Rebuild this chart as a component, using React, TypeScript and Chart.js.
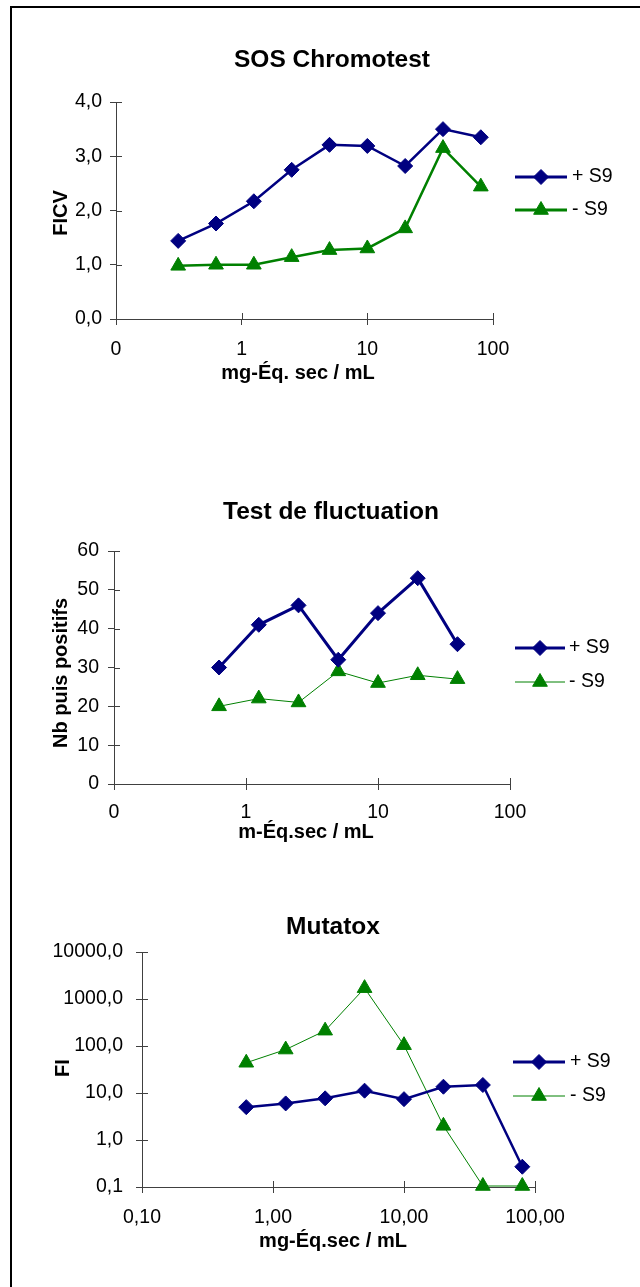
import React, { useEffect, useRef } from 'react';
import { Chart, registerables } from 'chart.js';

Chart.register(...registerables);

const FONT = "Arial, 'Liberation Sans', sans-serif";
const NAVY = '#000080';
const GREEN = '#008000';
const AXIS = '#404040';

const SERIES_LABELS = ['+ S9', '- S9'];

// --- SOS Chromotest ---
const SOS_DOSES = [0.3125, 0.625, 1.25, 2.5, 5, 10, 20, 40, 80];
const SOS_PLUS_S9 = [1.44, 1.76, 2.17, 2.75, 3.21, 3.19, 2.82, 3.5, 3.35];
const SOS_MINUS_S9 = [0.98, 1.0, 1.0, 1.14, 1.27, 1.3, 1.67, 3.15, 2.44];
const SOS_X_TICKS = [0.1, 1, 10, 100];
const SOS_X_LABELS = ['0', '1', '10', '100'];
const SOS_Y_TICKS = [0, 1, 2, 3, 4];
const SOS_Y_LABELS = ['0,0', '1,0', '2,0', '3,0', '4,0'];

// --- Test de fluctuation ---
const FLUC_DOSES = [0.625, 1.25, 2.5, 5, 10, 20, 40];
const FLUC_PLUS_S9 = [30, 41, 46, 32, 44, 53, 36];
const FLUC_MINUS_S9 = [20, 22, 21, 29, 26, 28, 27];
const FLUC_X_TICKS = [0.1, 1, 10, 100];
const FLUC_X_LABELS = ['0', '1', '10', '100'];
const FLUC_Y_TICKS = [0, 10, 20, 30, 40, 50, 60];
const FLUC_Y_LABELS = ['0', '10', '20', '30', '40', '50', '60'];

// --- Mutatox ---
const MUT_DOSES = [0.625, 1.25, 2.5, 5, 10, 20, 40, 80];
const MUT_PLUS_S9 = [5.0, 6.0, 7.7, 11.2, 7.4, 13.6, 14.8, 0.27];
const MUT_MINUS_S9 = [44, 84, 212, 1700, 104, 2.0, 0.105, 0.105];
const MUT_X_TICKS = [0.1, 1, 10, 100];
const MUT_X_LABELS = ['0,10', '1,00', '10,00', '100,00'];
const MUT_Y_TICKS = [0.1, 1, 10, 100, 1000, 10000];
const MUT_Y_LABELS = ['0,1', '1,0', '10,0', '100,0', '1000,0', '10000,0'];

type Spec = {
  id: string;
  top: number;
  height: number;
  area: { left: number; right: number; top: number; bottom: number };
  title: string;
  titlePos: [number, number];
  yTitle: string;
  yTitlePos: [number, number];
  xTitle: string;
  xTitlePos: [number, number];
  legend: { x1: number; x2: number; textX: number; ys: [number, number]; widths: [number, number] };
  doses: number[];
  plus: number[];
  minus: number[];
  plusWidth: number;
  minusWidth: number;
  xTicks: number[];
  xLabels: string[];
  yTicks: number[];
  yLabels: string[];
  yType: 'linear' | 'logarithmic';
  xPad: number;
  yPad: number;
};

const SPECS: Spec[] = [
  {
    id: 'sos', top: 0, height: 420,
    area: { left: 116, right: 493, top: 102, bottom: 319 },
    title: 'SOS Chromotest', titlePos: [332, 60],
    yTitle: 'FICV', yTitlePos: [61, 213],
    xTitle: 'mg-Éq. sec / mL', xTitlePos: [298, 373],
    legend: { x1: 515, x2: 567, textX: 572, ys: [177, 210], widths: [3, 3] },
    doses: SOS_DOSES, plus: SOS_PLUS_S9, minus: SOS_MINUS_S9,
    plusWidth: 2.5, minusWidth: 2.5,
    xTicks: SOS_X_TICKS, xLabels: SOS_X_LABELS,
    yTicks: SOS_Y_TICKS, yLabels: SOS_Y_LABELS, yType: 'linear',
    xPad: 13, yPad: 8,
  },
  {
    id: 'fluc', top: 420, height: 450,
    area: { left: 114, right: 510, top: 131, bottom: 364 },
    title: 'Test de fluctuation', titlePos: [331, 92],
    yTitle: 'Nb puis positifs', yTitlePos: [61, 253],
    xTitle: 'm-Éq.sec / mL', xTitlePos: [306, 412],
    legend: { x1: 515, x2: 565, textX: 569, ys: [228, 262], widths: [3, 1] },
    doses: FLUC_DOSES, plus: FLUC_PLUS_S9, minus: FLUC_MINUS_S9,
    plusWidth: 3, minusWidth: 1,
    xTicks: FLUC_X_TICKS, xLabels: FLUC_X_LABELS,
    yTicks: FLUC_Y_TICKS, yLabels: FLUC_Y_LABELS, yType: 'linear',
    xPad: 11, yPad: 9,
  },
  {
    id: 'mut', top: 870, height: 417,
    area: { left: 142, right: 535, top: 82, bottom: 317 },
    title: 'Mutatox', titlePos: [333, 57],
    yTitle: 'FI', yTitlePos: [63, 198],
    xTitle: 'mg-Éq.sec / mL', xTitlePos: [333, 371],
    legend: { x1: 513, x2: 565, textX: 570, ys: [192, 226], widths: [3, 1] },
    doses: MUT_DOSES, plus: MUT_PLUS_S9, minus: MUT_MINUS_S9,
    plusWidth: 2.5, minusWidth: 1,
    xTicks: MUT_X_TICKS, xLabels: MUT_X_LABELS,
    yTicks: MUT_Y_TICKS, yLabels: MUT_Y_LABELS, yType: 'logarithmic',
    xPad: 13, yPad: 13,
  },
];

function drawMarker(ctx: CanvasRenderingContext2D, style: string, x: number, y: number, r: number, color: string) {
  ctx.save();
  ctx.fillStyle = color;
  ctx.strokeStyle = color;
  ctx.lineWidth = 1;
  ctx.beginPath();
  if (style === 'rectRot') {
    ctx.moveTo(x, y - r);
    ctx.lineTo(x + r, y);
    ctx.lineTo(x, y + r);
    ctx.lineTo(x - r, y);
  } else {
    ctx.moveTo(x, y - r);
    ctx.lineTo(x + r * Math.sin((2 * Math.PI) / 3), y - r * Math.cos((2 * Math.PI) / 3));
    ctx.lineTo(x + r * Math.sin((4 * Math.PI) / 3), y - r * Math.cos((4 * Math.PI) / 3));
  }
  ctx.closePath();
  ctx.fill();
  ctx.stroke();
  ctx.restore();
}

function decorPlugin(spec: Spec) {
  return {
    id: 'decor_' + spec.id,
    afterDraw(chart: any) {
      const ctx: CanvasRenderingContext2D = chart.ctx;
      const area = chart.chartArea;
      const xs = chart.scales.x;
      const ys = chart.scales.y;
      ctx.save();
      // inner half of crossing tick marks
      ctx.strokeStyle = AXIS;
      ctx.lineWidth = 1;
      ctx.beginPath();
      xs.ticks.forEach((t: any) => {
        const px = Math.round(xs.getPixelForValue(t.value)) + 0.5;
        ctx.moveTo(px, area.bottom);
        ctx.lineTo(px, area.bottom - 6);
      });
      ys.ticks.forEach((t: any) => {
        const py = Math.round(ys.getPixelForValue(t.value)) + 0.5;
        ctx.moveTo(area.left, py);
        ctx.lineTo(area.left + 6, py);
      });
      ctx.stroke();

      ctx.fillStyle = '#000';
      ctx.textAlign = 'center';
      ctx.textBaseline = 'middle';
      // title
      ctx.font = `bold 24.5px ${FONT}`;
      ctx.fillText(spec.title, spec.titlePos[0], spec.titlePos[1]);
      // x title
      ctx.font = `bold 20px ${FONT}`;
      ctx.fillText(spec.xTitle, spec.xTitlePos[0], spec.xTitlePos[1]);
      // y title
      ctx.save();
      ctx.translate(spec.yTitlePos[0], spec.yTitlePos[1]);
      ctx.rotate(-Math.PI / 2);
      ctx.fillText(spec.yTitle, 0, 0);
      ctx.restore();

      // legend
      const lg = spec.legend;
      chart.data.datasets.forEach((ds: any, i: number) => {
        const y = lg.ys[i];
        ctx.strokeStyle = ds.borderColor;
        ctx.lineWidth = lg.widths[i];
        ctx.beginPath();
        ctx.moveTo(lg.x1, y);
        ctx.lineTo(lg.x2, y);
        ctx.stroke();
        drawMarker(ctx, ds.pointStyle, (lg.x1 + lg.x2) / 2, y, ds.pointRadius, ds.borderColor);
        ctx.fillStyle = '#000';
        ctx.textAlign = 'left';
        ctx.textBaseline = 'middle';
        ctx.font = `19.5px ${FONT}`;
        ctx.fillText(ds.label, lg.textX, y);
      });
      ctx.restore();
    },
  };
}

function makeConfig(spec: Spec): any {
  const a = spec.area;
  const xH = 40;
  const tickFont = { family: FONT, size: 19.5 };
  return {
    type: 'line',
    data: {
      datasets: [
        {
          label: SERIES_LABELS[0],
          data: spec.doses.map((x, i) => ({ x, y: spec.plus[i] })),
          borderColor: NAVY,
          backgroundColor: NAVY,
          borderWidth: spec.plusWidth,
          pointStyle: 'rectRot',
          pointRadius: 7.5,
          pointBorderWidth: 1,
          pointBackgroundColor: NAVY,
          pointBorderColor: NAVY,
          tension: 0,
          clip: false,
        },
        {
          label: SERIES_LABELS[1],
          data: spec.doses.map((x, i) => ({ x, y: spec.minus[i] })),
          borderColor: GREEN,
          backgroundColor: GREEN,
          borderWidth: spec.minusWidth,
          pointStyle: 'triangle',
          pointRadius: 8.5,
          pointBorderWidth: 1,
          pointBackgroundColor: GREEN,
          pointBorderColor: GREEN,
          tension: 0,
          clip: false,
        },
      ],
    },
    options: {
      responsive: false,
      animation: false,
      devicePixelRatio: 1,
      events: [],
      layout: {
        padding: { left: 0, top: a.top, right: 640 - a.right, bottom: spec.height - a.bottom - xH },
      },
      plugins: {
        legend: { display: false },
        title: { display: false },
        tooltip: { enabled: false },
      },
      scales: {
        x: {
          type: 'logarithmic',
          position: 'bottom',
          min: spec.xTicks[0],
          max: spec.xTicks[spec.xTicks.length - 1],
          afterBuildTicks: (s: any) => {
            s.ticks = spec.xTicks.map((v) => ({ value: v }));
          },
          afterFit: (s: any) => {
            s.height = xH;
          },
          ticks: {
            autoSkip: false,
            maxRotation: 0,
            minRotation: 0,
            padding: spec.xPad,
            color: '#000',
            font: tickFont,
            callback: (_v: any, i: number) => spec.xLabels[i],
          },
          grid: { drawOnChartArea: false, drawTicks: true, tickLength: 6, color: AXIS, lineWidth: 1 },
          border: { display: true, color: AXIS, width: 1 },
        },
        y: {
          type: spec.yType,
          position: 'left',
          min: spec.yTicks[0],
          max: spec.yTicks[spec.yTicks.length - 1],
          afterBuildTicks: (s: any) => {
            s.ticks = spec.yTicks.map((v) => ({ value: v }));
          },
          afterFit: (s: any) => {
            s.width = a.left;
          },
          ticks: {
            autoSkip: false,
            padding: spec.yPad,
            color: '#000',
            font: tickFont,
            callback: (_v: any, i: number) => spec.yLabels[i],
          },
          grid: { drawOnChartArea: false, drawTicks: true, tickLength: 6, color: AXIS, lineWidth: 1 },
          border: { display: true, color: AXIS, width: 1 },
        },
      },
    },
    plugins: [decorPlugin(spec)],
  };
}

function Panel({ spec }: { spec: Spec }) {
  const ref = useRef<HTMLCanvasElement>(null);
  useEffect(() => {
    if (!ref.current) return;
    const chart = new Chart(ref.current, makeConfig(spec));
    return () => chart.destroy();
  }, [spec]);
  return (
    <canvas
      ref={ref}
      width={640}
      height={spec.height}
      style={{ position: 'absolute', left: 0, top: spec.top, width: 640, height: spec.height }}
    />
  );
}

export default function App() {
  return (
    <div
      style={{
        position: 'absolute',
        left: 0,
        top: 0,
        width: 640,
        height: 1287,
        overflow: 'hidden',
        background: '#fff',
      }}
    >
      <div
        style={{
          position: 'absolute',
          left: 10,
          top: 6,
          width: 800,
          height: 1500,
          border: '2px solid #000',
          boxSizing: 'border-box',
        }}
      />
      {SPECS.map((s) => (
        <Panel key={s.id} spec={s} />
      ))}
    </div>
  );
}
